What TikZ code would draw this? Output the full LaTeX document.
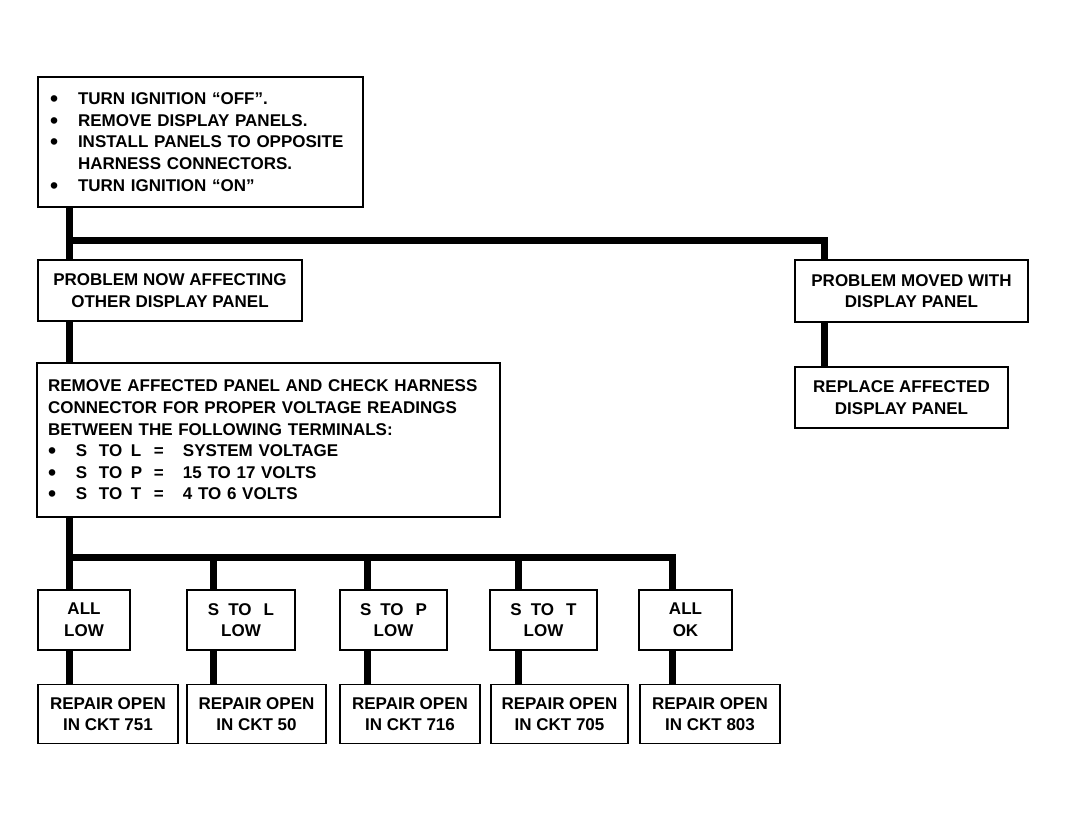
\documentclass[tikz,border=0pt]{standalone}
\usepackage{fontspec}
\setmainfont{Liberation Sans}
\usepackage{graphicx}
\usepackage{tikz}

\newcommand{\bul}{\makebox[28pt][l]{\smash{\raisebox{-2pt}{\scalebox{1.35}{\textbullet}}}}}
\newcommand{\termrow}[2]{\bul\makebox[23pt][l]{S}\makebox[32pt][l]{TO}\makebox[23pt][l]{#1}\makebox[29pt][l]{=}#2}

\begin{document}
\begin{tikzpicture}[x=1pt,y=-1pt,
    box/.style={draw, line width=1.8pt, inner sep=0pt, align=center,
        font=\bfseries\fontsize{17}{21.6}\selectfont},
    wire/.style={line width=7pt}]

\useasboundingbox (0,0) rectangle (1068,822);

\node[box, align=left, inner xsep=12pt, text width=301pt,
    minimum width=325pt, minimum height=130pt] (start) at (200.5,142)
    {\bul TURN IGNITION “OFF”.\\
     \bul REMOVE DISPLAY PANELS.\\
     \bul INSTALL PANELS TO OPPOSITE\\
     \hspace*{28pt}HARNESS CONNECTORS.\\
     \bul TURN IGNITION “ON”};

\node[box, minimum width=264pt, minimum height=61pt] (nowaff) at (170,290.5)
    {PROBLEM NOW AFFECTING\\OTHER DISPLAY PANEL};
\node[box, minimum width=233pt, minimum height=62pt] (moved) at (911.5,291)
    {PROBLEM MOVED WITH\\DISPLAY PANEL};
\node[box, minimum width=213pt, minimum height=61pt] (replace) at (901.5,397.5)
    {REPLACE AFFECTED\\DISPLAY PANEL};

\node[box, align=left, inner xsep=11pt, text width=441pt,
    minimum width=463pt, minimum height=154pt] (check) at (268.5,440)
    {REMOVE AFFECTED PANEL AND CHECK HARNESS\\
     CONNECTOR FOR PROPER VOLTAGE READINGS\\
     BETWEEN THE FOLLOWING TERMINALS:\\
     \termrow{L}{SYSTEM VOLTAGE}\\
     \termrow{P}{15 TO 17 VOLTS}\\
     \termrow{T}{4 TO 6 VOLTS}};

\foreach \n/\x/\w/\t in {alllow/84/92/{ALL\\LOW},
        stol/241/108/{S\hspace{9pt}TO\hspace{12pt}L\\LOW},
        stop/393.5/107/{S\hspace{9pt}TO\hspace{12pt}P\\LOW},
        stot/543.5/107/{S\hspace{9pt}TO\hspace{12pt}T\\LOW},
        allok/685.5/93/{ALL\\OK}}
    \node[box, minimum width=\w pt, minimum height=60pt] (\n) at (\x,620) {\t};

\foreach \n/\x/\w/\c in {r751/108/140/751, r50/256.5/139/50, r716/410/140/716,
        r705/559.5/137/705, r803/710/140/803}
    \node[box, minimum width=\w pt, minimum height=59pt] (\n) at (\x,714)
        {REPAIR OPEN\\IN CKT \c};

\coordinate (split) at (69,240);
\coordinate (turn) at (824,240);

\draw[wire] (start.south -| split) -- (split |- nowaff.north);
\draw[wire] (split) -- (turn) -- (turn |- moved.north);
\draw[wire] (nowaff.south -| split) -- (split |- check.north);
\draw[wire] (moved.south -| turn) -- (turn |- replace.north);

\coordinate (tap1) at (69,557);
\coordinate (tap2) at (213,557);
\coordinate (tap3) at (367,557);
\coordinate (tap4) at (518,557);
\coordinate (tap5) at (672,557);

\draw[wire] (check.south -| tap1) -- (tap1) -- (tap5) -- (tap5 |- allok.north);

\foreach \i/\n/\r in {1/alllow/r751, 2/stol/r50, 3/stop/r716, 4/stot/r705, 5/allok/r803} {
    \draw[wire] (tap\i) -- (tap\i |- \n.north);
    \draw[wire] (tap\i |- \n.south) -- (tap\i |- \r.north);
}

\end{tikzpicture}
\end{document}
